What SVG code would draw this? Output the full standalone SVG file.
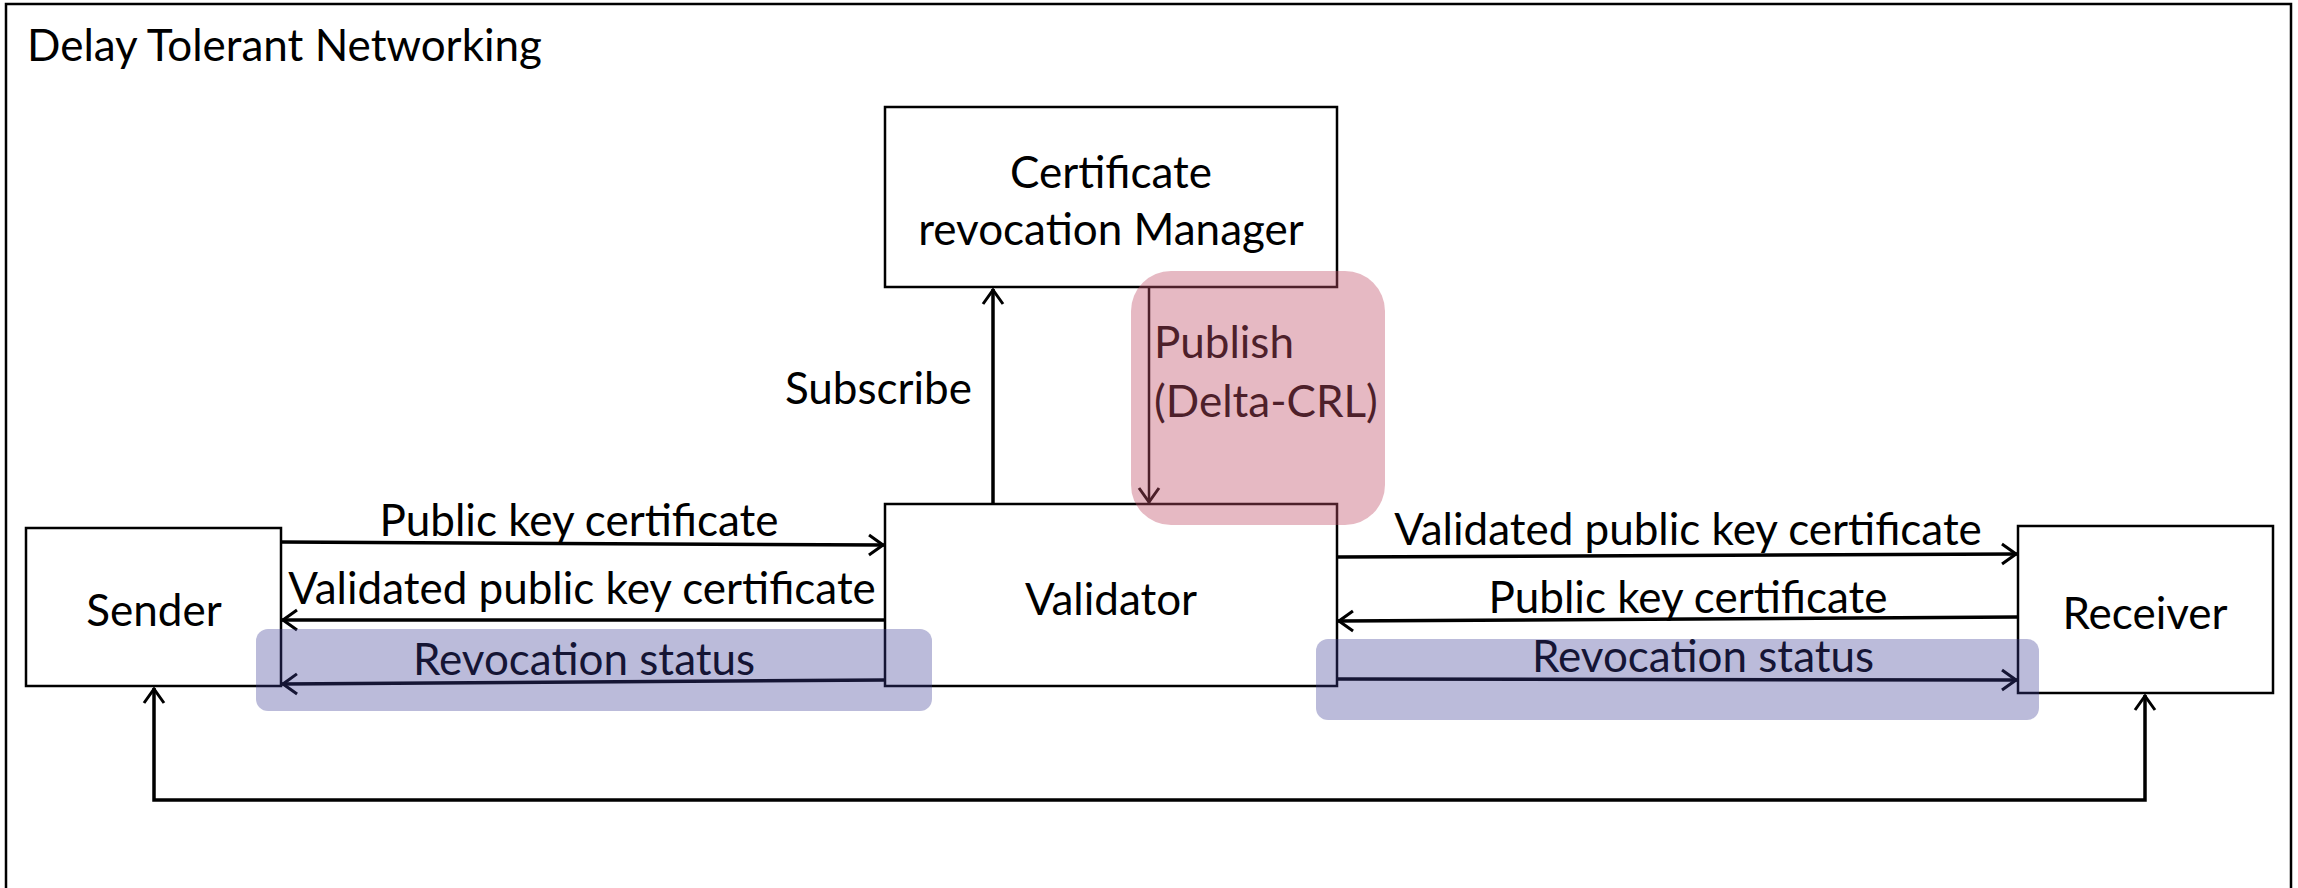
<svg xmlns="http://www.w3.org/2000/svg" width="2298" height="888" viewBox="0 0 2298 888">
<style>
text{font-family:Lato,"Carlito","Liberation Sans",sans-serif;font-size:44px;fill:#000}
.box{fill:#fff;stroke:#000;stroke-width:2.5}
.c{text-anchor:middle}
.ln{fill:none;stroke:#000;stroke-width:3.5}
.thin{fill:none;stroke:#000;stroke-width:2.5}
</style>
<defs>
<marker id="ah" markerUnits="userSpaceOnUse" viewBox="0 0 18 24" refX="17" refY="12" markerWidth="18" markerHeight="24" orient="auto-start-reverse">
<path d="M2,2 L16,12 L2,22" fill="none" stroke="#000" stroke-width="3"/>
</marker>
</defs>
<rect x="6" y="4" width="2285" height="900" fill="#fff" stroke="#000" stroke-width="2.5"/>
<text x="27" y="61">Delay Tolerant Networking</text>

<g id="crm"><rect class="box" x="885" y="107" width="452" height="180"/>
<text class="c" x="1111" y="188">Certificate</text><text class="c" x="1111" y="245">revocation Manager</text></g>
<g id="validator"><rect class="box" x="885" y="504" width="452" height="182"/>
<text class="c" x="1111" y="615">Validator</text></g>
<g id="sender"><rect class="box" x="26" y="528" width="255" height="158"/>
<text class="c" x="154" y="626">Sender</text></g>
<g id="receiver"><rect class="box" x="2018" y="526" width="255" height="167"/>
<text class="c" x="2145" y="629">Receiver</text></g>

<g id="connectors">
<line class="ln" x1="993" y1="504" x2="993" y2="289" marker-end="url(#ah)"/>
<line class="thin" x1="1149" y1="287" x2="1149" y2="503" marker-end="url(#ah)"/>
<line class="ln" x1="281" y1="542" x2="884" y2="545" marker-end="url(#ah)"/>
<line class="ln" x1="885" y1="620" x2="282" y2="620" marker-end="url(#ah)"/>
<line class="ln" x1="885" y1="680" x2="282" y2="684" marker-end="url(#ah)"/>
<line class="ln" x1="1337" y1="557" x2="2017" y2="554" marker-end="url(#ah)"/>
<line class="ln" x1="2018" y1="617" x2="1338" y2="621" marker-end="url(#ah)"/>
<line class="ln" x1="1337" y1="679" x2="2017" y2="680" marker-end="url(#ah)"/>
<polyline class="ln" points="154,688 154,800 2145,800 2145,695" marker-start="url(#ah)" marker-end="url(#ah)"/>
<text x="972" y="404" text-anchor="end">Subscribe</text>
<text x="1154" y="358">Publish</text>
<text x="1154" y="417">(Delta-CRL)</text>
<text class="c" x="579" y="536">Public key certificate</text>
<text class="c" x="582" y="604">Validated public key certificate</text>
<text class="c" x="584" y="675">Revocation status</text>
<text class="c" x="1688" y="545">Validated public key certificate</text>
<text class="c" x="1688" y="613">Public key certificate</text>
<text class="c" x="1703" y="672">Revocation status</text>
</g>

<g id="highlights">
<rect x="1131" y="271" width="254" height="254" rx="40" fill="#c0506a" fill-opacity="0.4"/>
<rect x="256" y="629" width="676" height="82" rx="12" fill="#3c3c96" fill-opacity="0.35"/>
<rect x="1316" y="639" width="723" height="81" rx="12" fill="#3c3c96" fill-opacity="0.35"/>
</g>
</svg>
